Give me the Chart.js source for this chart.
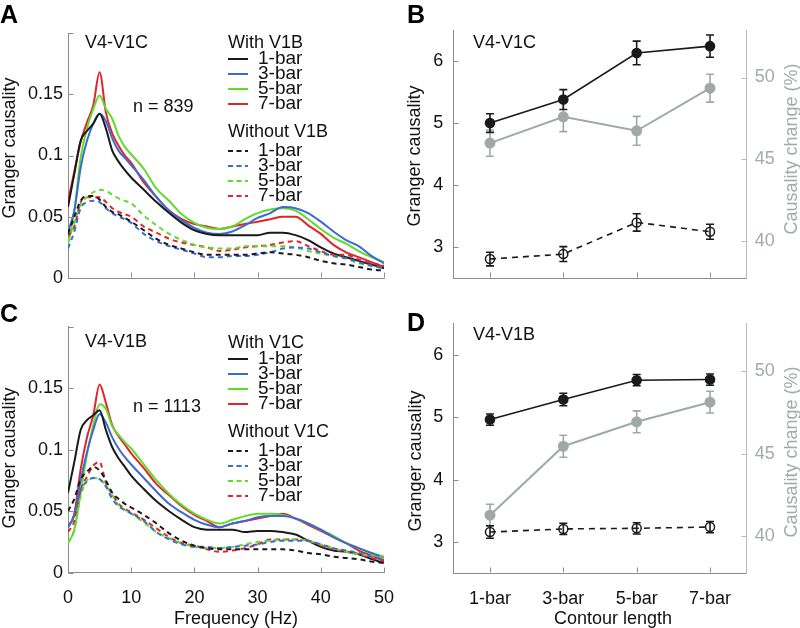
<!DOCTYPE html>
<html><head><meta charset="utf-8">
<script src="https://cdn.jsdelivr.net/npm/chart.js@4.4.1/dist/chart.umd.min.js"></script>
<style>
html,body{margin:0;padding:0;background:#fff;width:800px;height:628px;overflow:hidden;}
canvas{position:absolute;}
</style></head><body>
<canvas id="cA" width="400" height="300" style="left:0;top:0"></canvas>
<canvas id="cB" width="400" height="300" style="left:400px;top:0"></canvas>
<canvas id="cC" width="400" height="328" style="left:0;top:300px"></canvas>
<canvas id="cD" width="400" height="328" style="left:400px;top:300px"></canvas>
<script>
// ---------- data ----------
const FREQ = [0,1,2,3,4,5,6,7,8,9,10,12,14,16,18,20,22,24,26,28,30,32,34,36,38,40,42,44,46,48,50];
const X_TICKS = [0,10,20,30,40,50];
const X_LABELS = ['0','10','20','30','40','50'];
const GC_Y_TICKS = [0,0.05,0.1,0.15,0.2];
const GC_Y_LABELS = ['0','0.05','0.1','0.15',''];
const BARS = ['1-bar','3-bar','5-bar','7-bar'];

// Panel A: V4-V1C
const A_WITH_1 = [0.058,0.085,0.112,0.120,0.126,0.134,0.122,0.104,0.095,0.088,0.082,0.072,0.062,0.053,0.045,0.039,0.036,0.035,0.035,0.035,0.035,0.037,0.037,0.035,0.031,0.025,0.020,0.017,0.014,0.011,0.008];
const A_WITH_3 = [0.038,0.055,0.090,0.112,0.126,0.134,0.128,0.114,0.104,0.098,0.092,0.080,0.066,0.055,0.047,0.041,0.037,0.036,0.038,0.043,0.049,0.053,0.058,0.057,0.053,0.046,0.038,0.031,0.026,0.018,0.012];
const A_WITH_5 = [0.027,0.055,0.098,0.122,0.138,0.149,0.138,0.130,0.116,0.107,0.101,0.089,0.073,0.063,0.052,0.045,0.041,0.040,0.042,0.048,0.053,0.056,0.057,0.055,0.048,0.040,0.033,0.028,0.022,0.017,0.013];
const A_WITH_7 = [0.062,0.087,0.111,0.127,0.141,0.168,0.135,0.118,0.108,0.100,0.094,0.078,0.066,0.055,0.048,0.044,0.042,0.040,0.042,0.044,0.046,0.048,0.050,0.050,0.043,0.036,0.027,0.021,0.017,0.013,0.009];
const A_WO_1 = [0.036,0.050,0.063,0.067,0.067,0.064,0.058,0.054,0.052,0.049,0.046,0.039,0.032,0.027,0.024,0.021,0.019,0.019,0.019,0.019,0.020,0.021,0.020,0.019,0.017,0.014,0.012,0.011,0.009,0.007,0.006];
const A_WO_3 = [0.024,0.038,0.057,0.062,0.063,0.062,0.057,0.053,0.050,0.048,0.045,0.036,0.030,0.026,0.023,0.020,0.017,0.017,0.018,0.018,0.019,0.021,0.024,0.025,0.024,0.021,0.018,0.016,0.013,0.010,0.008];
const A_WO_5 = [0.030,0.045,0.060,0.066,0.070,0.072,0.071,0.068,0.065,0.063,0.061,0.051,0.043,0.036,0.031,0.027,0.025,0.024,0.024,0.026,0.026,0.026,0.026,0.025,0.022,0.020,0.018,0.016,0.012,0.010,0.008];
const A_WO_7 = [0.034,0.042,0.062,0.066,0.066,0.066,0.062,0.057,0.054,0.052,0.050,0.042,0.037,0.032,0.029,0.027,0.025,0.022,0.023,0.025,0.026,0.027,0.029,0.030,0.026,0.022,0.019,0.019,0.015,0.012,0.010];

// Panel C: V4-V1B
const C_WITH_1 = [0.065,0.090,0.116,0.124,0.128,0.132,0.116,0.102,0.093,0.086,0.079,0.068,0.058,0.050,0.043,0.037,0.035,0.035,0.035,0.033,0.034,0.034,0.033,0.031,0.026,0.021,0.018,0.017,0.015,0.011,0.008];
const C_WITH_3 = [0.037,0.047,0.075,0.098,0.116,0.129,0.122,0.110,0.101,0.094,0.088,0.077,0.066,0.056,0.049,0.043,0.039,0.037,0.040,0.042,0.045,0.046,0.046,0.044,0.040,0.035,0.029,0.024,0.020,0.016,0.012];
const C_WITH_5 = [0.024,0.035,0.065,0.096,0.120,0.137,0.133,0.119,0.112,0.106,0.101,0.088,0.075,0.064,0.055,0.048,0.043,0.040,0.043,0.046,0.048,0.048,0.047,0.044,0.040,0.035,0.030,0.024,0.020,0.016,0.013];
const C_WITH_7 = [0.037,0.048,0.084,0.110,0.128,0.153,0.138,0.120,0.111,0.104,0.097,0.085,0.072,0.063,0.054,0.047,0.042,0.037,0.040,0.042,0.044,0.046,0.048,0.044,0.039,0.034,0.029,0.024,0.018,0.014,0.010];
const C_WO_1 = [0.050,0.060,0.076,0.082,0.086,0.083,0.075,0.065,0.060,0.056,0.053,0.047,0.040,0.032,0.026,0.022,0.020,0.019,0.019,0.019,0.019,0.019,0.019,0.018,0.016,0.015,0.013,0.012,0.011,0.009,0.008];
const C_WO_3 = [0.037,0.047,0.067,0.074,0.077,0.076,0.070,0.060,0.054,0.051,0.048,0.042,0.033,0.027,0.023,0.021,0.021,0.020,0.021,0.022,0.023,0.025,0.026,0.026,0.026,0.023,0.020,0.018,0.016,0.013,0.010];
const C_WO_5 = [0.024,0.035,0.062,0.075,0.077,0.076,0.071,0.063,0.055,0.051,0.048,0.041,0.033,0.028,0.024,0.021,0.020,0.020,0.021,0.023,0.025,0.026,0.027,0.027,0.026,0.023,0.020,0.017,0.015,0.014,0.013];
const C_WO_7 = [0.033,0.042,0.067,0.078,0.087,0.090,0.073,0.064,0.056,0.052,0.049,0.043,0.036,0.029,0.024,0.022,0.019,0.017,0.018,0.020,0.023,0.027,0.027,0.027,0.026,0.022,0.019,0.017,0.015,0.012,0.009];

// Panel B: V4-V1C summary
const B_WITH = [5.00,5.38,6.13,6.24];
const B_WITH_ERR = [0.15,0.16,0.19,0.18];
const B_WO = [2.81,2.89,3.40,3.25];
const B_WO_ERR = [0.11,0.12,0.14,0.12];
const B_CHANGE = [46.0,47.6,46.75,49.35];
const B_CHANGE_ERR = [0.8,0.9,0.88,0.85];
// Panel D: V4-V1B summary
const D_WITH = [4.96,5.28,5.59,5.60];
const D_WITH_ERR = [0.09,0.10,0.09,0.09];
const D_WO = [3.16,3.21,3.22,3.24];
const D_WO_ERR = [0.10,0.09,0.09,0.09];
const D_CHANGE = [41.27,45.45,46.93,48.12];
const D_CHANGE_ERR = [0.66,0.67,0.66,0.66];
const GC_TICKS = [3,4,5,6];
const CHANGE_TICKS = [40,45,50];

// ---------- styling ----------
const FONT = '"Liberation Sans", Arial, Helvetica, sans-serif';
const BLACK = '#1a1a1a', BLUE = '#3a6bd2', GREEN = '#60db2a', RED = '#e2232b';
const GREY = '#a0a8a8', AXIS = '#8c8c8c', RAXIS = '#b4b9b9';
const COLORS = [BLACK, BLUE, GREEN, RED];

const fitX = h => s => { s.height = h; s.paddingLeft = 0; s.paddingRight = 0; };
const fitY = w => s => { s.width = w; s.paddingTop = 0; s.paddingBottom = 0; };

const inTicks = {
  id: 'inTicks',
  afterDraw(chart) {
    const ctx = chart.ctx, ca = chart.chartArea;
    ctx.save();
    ctx.lineWidth = 1;
    Object.values(chart.scales).forEach(s => {
      ctx.strokeStyle = s.options.border.color;
      s.ticks.forEach((t, i) => {
        const p = Math.round(s.getPixelForTick(i)) + 0.5;
        ctx.beginPath();
        if (s.isHorizontal()) { const b = Math.round(ca.bottom) - 0.5; ctx.moveTo(p, b); ctx.lineTo(p, b - 5); }
        else if (s.position === 'left') { const l = Math.round(ca.left) + 0.5; ctx.moveTo(l, p); ctx.lineTo(l + 5, p); }
        else { const r = Math.round(ca.right) - 0.5; ctx.moveTo(r, p); ctx.lineTo(r - 5, p); }
        ctx.stroke();
      });
    });
    ctx.restore();
  }
};

const texts = {
  id: 'texts',
  afterDraw(chart, args, opts) {
    const ctx = chart.ctx;
    (opts.items || []).forEach(it => {
      ctx.save();
      ctx.font = (it.bold ? 'bold ' : '') + (it.size || 18) + 'px ' + FONT;
      ctx.fillStyle = it.color || '#111';
      ctx.textAlign = it.align || 'left';
      ctx.textBaseline = it.base || 'middle';
      ctx.translate(it.x, it.y);
      if (it.rot) ctx.rotate(it.rot);
      ctx.fillText(it.t, 0, 0);
      ctx.restore();
    });
  }
};

const legendBox = {
  id: 'legendBox',
  afterDraw(chart, args, opts) {
    if (!opts.rows) return;
    const ctx = chart.ctx;
    ctx.save();
    ctx.textBaseline = 'middle';
    ctx.fillStyle = '#111';
    opts.rows.forEach(r => {
      if (r.header) { ctx.font = '18px ' + FONT; ctx.fillText(r.text, opts.x0, r.y); return; }
      ctx.strokeStyle = r.color; ctx.lineWidth = 2;
      ctx.setLineDash(r.dash ? [5, 3.5] : []);
      ctx.beginPath(); ctx.moveTo(opts.x0, r.y); ctx.lineTo(opts.x0 + 20, r.y); ctx.stroke();
      ctx.font = '19px ' + FONT;
      ctx.fillText(r.text, opts.x0 + 30, r.y);
    });
    ctx.restore();
  }
};

const errBars = {
  id: 'errBars',
  beforeDatasetsDraw(chart) {
    const ctx = chart.ctx;
    chart.data.datasets.forEach((ds, di) => {
      if (!ds.errors) return;
      const meta = chart.getDatasetMeta(di);
      const ys = chart.scales[ds.yAxisID];
      ctx.save();
      ctx.strokeStyle = ds.errColor; ctx.lineWidth = 1.6; ctx.setLineDash([]);
      meta.data.forEach((pt, i) => {
        const v = ds.data[i], e = ds.errors[i];
        const y1 = ys.getPixelForValue(v + e), y2 = ys.getPixelForValue(v - e);
        ctx.beginPath();
        ctx.moveTo(pt.x, y1); ctx.lineTo(pt.x, y2);
        ctx.moveTo(pt.x - 4, y1); ctx.lineTo(pt.x + 4, y1);
        ctx.moveTo(pt.x - 4, y2); ctx.lineTo(pt.x + 4, y2);
        ctx.stroke();
      });
      ctx.restore();
    });
  }
};

function curve(label, arr, color, dashed) {
  return { label, data: FREQ.map((f, i) => ({ x: f, y: arr[i] })), borderColor: color, borderWidth: 2,
    borderDash: dashed ? [5, 4] : [], pointRadius: 0, cubicInterpolationMode: 'monotone', fill: false };
}

function spectrumChart(id, withArrs, woArrs, showX, padTop, xH, items, withName, woName) {
  const ds = [];
  woArrs.forEach((a, i) => ds.push(curve(woName + ' ' + BARS[i], a, COLORS[i], true)));
  withArrs.forEach((a, i) => ds.push(curve(withName + ' ' + BARS[i], a, COLORS[i], false)));
  const rows = [{ header: true, text: withName, y: 43 }];
  BARS.forEach((b, i) => rows.push({ text: b, color: COLORS[i], y: 59 + i * 15 }));
  rows.push({ header: true, text: woName, y: 132 });
  BARS.forEach((b, i) => rows.push({ text: b, color: COLORS[i], dash: true, y: 151 + i * 15 }));
  return new Chart(document.getElementById(id), {
    type: 'line',
    data: { datasets: ds },
    options: {
      responsive: false, animation: false, devicePixelRatio: 1, events: [],
      layout: { padding: { left: 0, right: 16, top: padTop, bottom: 0 } },
      plugins: { legend: { display: false }, tooltip: { enabled: false },
        texts: { items }, legendBox: { x0: 228, rows } },
      scales: {
        x: { type: 'linear', min: 0, max: 50,
          afterBuildTicks: s => { s.ticks = X_TICKS.map(v => ({ value: v })); },
          afterFit: fitX(xH),
          grid: { drawOnChartArea: false, drawTicks: false },
          border: { color: AXIS, width: 1 },
          ticks: { display: showX, callback: (v, i) => X_LABELS[i], font: { size: 18, family: FONT }, color: '#111', padding: 15, maxRotation: 0 } },
        y: { type: 'linear', min: 0, max: 0.2,
          afterBuildTicks: s => { s.ticks = GC_Y_TICKS.map(v => ({ value: v })); },
          afterFit: fitY(68),
          grid: { drawOnChartArea: false, drawTicks: false },
          border: { color: AXIS, width: 1 },
          ticks: { callback: (v, i) => GC_Y_LABELS[i], font: { size: 18, family: FONT }, color: '#111', padding: 5 } }
      }
    },
    plugins: [inTicks, texts, legendBox]
  });
}

function summaryChart(id, withV, withE, woV, woE, chV, chE, showX, padTop, xH, items) {
  return new Chart(document.getElementById(id), {
    type: 'line',
    data: { labels: BARS, datasets: [
      { label: 'change', data: chV, errors: chE, errColor: GREY, yAxisID: 'y2', borderColor: GREY, borderWidth: 2,
        pointRadius: 4.5, pointBackgroundColor: GREY, pointBorderColor: GREY, tension: 0 },
      { label: 'without', data: woV, errors: woE, errColor: BLACK, yAxisID: 'y', borderColor: BLACK, borderWidth: 1.6,
        borderDash: [6, 5], pointRadius: 4.5, pointBorderWidth: 1.5, pointBackgroundColor: 'rgba(0,0,0,0)', pointBorderColor: BLACK, tension: 0 },
      { label: 'with', data: withV, errors: withE, errColor: BLACK, yAxisID: 'y', borderColor: BLACK, borderWidth: 1.6,
        pointRadius: 4.5, pointBackgroundColor: BLACK, pointBorderColor: BLACK, tension: 0 }
    ] },
    options: {
      responsive: false, animation: false, devicePixelRatio: 1, events: [],
      layout: { padding: { left: 0, right: 0, top: padTop, bottom: 0 } },
      plugins: { legend: { display: false }, tooltip: { enabled: false }, texts: { items } },
      scales: {
        x: { type: 'category', offset: true,
          afterFit: fitX(xH),
          grid: { drawOnChartArea: false, drawTicks: false, offset: false },
          border: { color: AXIS, width: 1 },
          ticks: { display: showX, font: { size: 18, family: FONT }, color: '#111', padding: 15, maxRotation: 0 } },
        y: { type: 'linear', position: 'left', min: 2.5, max: 6.5,
          afterBuildTicks: s => { s.ticks = GC_TICKS.map(v => ({ value: v })); },
          afterFit: fitY(53.3),
          grid: { drawOnChartArea: false, drawTicks: false },
          border: { color: AXIS, width: 1 },
          ticks: { font: { size: 18, family: FONT }, color: '#111', padding: 10 } },
        y2: { type: 'linear', position: 'right', min: 37.75, max: 52.9,
          afterBuildTicks: s => { s.ticks = CHANGE_TICKS.map(v => ({ value: v })); },
          afterFit: fitY(53.3),
          grid: { drawOnChartArea: false, drawTicks: false },
          border: { color: RAXIS, width: 1 },
          ticks: { font: { size: 18, family: FONT }, color: '#a4aaaa', padding: 8 } }
      }
    },
    plugins: [errBars, inTicks, texts]
  });
}

const ROT = -Math.PI / 2;
spectrumChart('cA', [A_WITH_1, A_WITH_3, A_WITH_5, A_WITH_7], [A_WO_1, A_WO_3, A_WO_5, A_WO_7], false, 33, 22, [
  { t: 'A', x: 0, y: 23, size: 25, bold: true, base: 'alphabetic', color: '#000' },
  { t: 'V4-V1C', x: 85, y: 43 },
  { t: 'n = 839', x: 133, y: 107 },
  { t: 'Granger causality', x: 10, y: 148, rot: ROT, align: 'center' }
], 'With V1B', 'Without V1B');

spectrumChart('cC', [C_WITH_1, C_WITH_3, C_WITH_5, C_WITH_7], [C_WO_1, C_WO_3, C_WO_5, C_WO_7], true, 26.7, 55.3, [
  { t: 'C', x: 0, y: 22, size: 25, bold: true, base: 'alphabetic', color: '#000' },
  { t: 'V4-V1B', x: 85, y: 42 },
  { t: 'n = 1113', x: 133, y: 107 },
  { t: 'Granger causality', x: 10, y: 158, rot: ROT, align: 'center' },
  { t: 'Frequency (Hz)', x: 236, y: 319, align: 'center' }
], 'With V1C', 'Without V1C');

summaryChart('cB', B_WITH, B_WITH_ERR, B_WO, B_WO_ERR, B_CHANGE, B_CHANGE_ERR, false, 30, 21.7, [
  { t: 'B', x: 7, y: 23, size: 25, bold: true, base: 'alphabetic', color: '#000' },
  { t: 'V4-V1C', x: 73, y: 43 },
  { t: 'Granger causality', x: 15, y: 156, rot: ROT, align: 'center' },
  { t: 'Causality change (%)', x: 392, y: 149, rot: ROT, align: 'center', color: '#a4aaaa' }
]);

summaryChart('cD', D_WITH, D_WITH_ERR, D_WO, D_WO_ERR, D_CHANGE, D_CHANGE_ERR, true, 23.3, 54.7, [
  { t: 'D', x: 7, y: 31, size: 25, bold: true, base: 'alphabetic', color: '#000' },
  { t: 'V4-V1B', x: 73, y: 35 },
  { t: 'Granger causality', x: 16, y: 161, rot: ROT, align: 'center' },
  { t: 'Causality change (%)', x: 392, y: 152, rot: ROT, align: 'center', color: '#a4aaaa' },
  { t: 'Contour length', x: 213, y: 319, align: 'center' }
]);
</script>
</body></html>
